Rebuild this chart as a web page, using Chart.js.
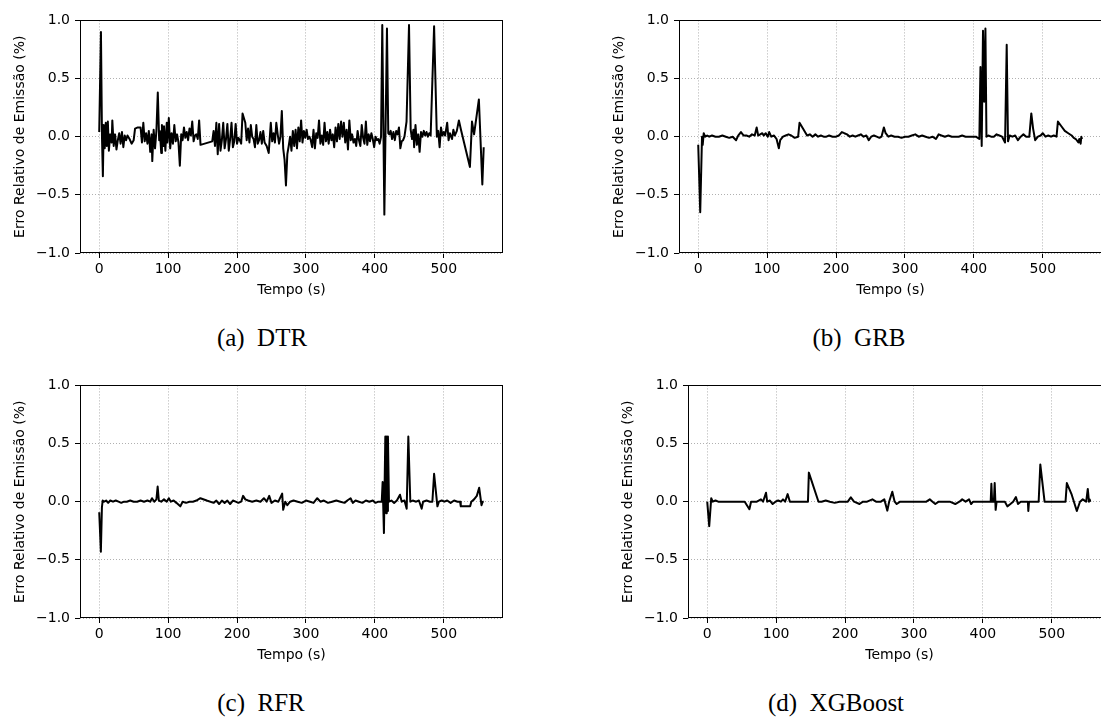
<!DOCTYPE html>
<html>
<head>
<meta charset="utf-8">
<script src="https://cdn.jsdelivr.net/npm/chart.js@4.4.1/dist/chart.umd.min.js"></script>
<style>
  body { margin: 0; width: 1101px; height: 717px; overflow: hidden; background: #fff; position: relative; }
  canvas { position: absolute; }
  .legenda { position: absolute; font-family: 'Liberation Serif', 'Times New Roman', serif; font-size: 25px; line-height: 1; color: #000; white-space: nowrap; transform: translateX(-50%); }
</style>
</head>
<body>
<canvas id="chartDTR"></canvas>
<canvas id="chartGRB"></canvas>
<canvas id="chartRFR"></canvas>
<canvas id="chartXGB"></canvas>
<div class="legenda" style="left:262px; top:325px">(a)&ensp;DTR</div>
<div class="legenda" style="left:859px; top:325px">(b)&ensp;GRB</div>
<div class="legenda" style="left:261px; top:690px">(c)&ensp;RFR</div>
<div class="legenda" style="left:836px; top:690px">(d)&ensp;XGBoost</div>
<script>
// eixos
const xTicks = [0, 100, 200, 300, 400, 500];
const yTicks = [-1, -0.5, 0, 0.5, 1];
const xMin = -27.9;
const xMax = 586;

// (a) DTR
const tempoDTR = [
  0, 2.5, 4, 5.3, 6.5, 8, 9.5, 11, 12.5, 14,
  16, 18, 19, 21, 23, 25, 27, 29, 31, 33,
  35, 37, 39, 41, 44, 47, 50, 52, 56, 60,
  62, 64, 66, 68, 70, 72, 74, 76, 77, 79,
  81, 83, 85, 87, 88, 90, 91, 93, 94, 96,
  98, 99, 101, 103, 105, 107, 109, 111, 113, 115,
  117, 119, 121, 123, 125, 127, 129, 131, 133, 135,
  137, 139, 141, 143, 145, 147, 164, 166, 168, 170,
  172, 174, 176, 178, 180, 182, 184, 186, 188, 190,
  192, 194, 196, 198, 200, 202, 204, 206, 208, 212,
  214, 216, 218, 220, 222, 224, 226, 228, 230, 232,
  234, 236, 238, 240, 243, 246, 249, 251, 253, 255,
  257, 259, 261, 263, 265, 267, 269, 271, 273, 275,
  277, 279, 281, 283, 285, 287, 289, 291, 293, 295,
  297, 299, 301, 303, 305, 307, 309, 311, 313, 315,
  317, 319, 321, 323, 325, 327, 329, 331, 333, 335,
  337, 339, 341, 343, 345, 347, 349, 351, 353, 355,
  357, 359, 361, 363, 365, 367, 369, 371, 373, 375,
  377, 379, 381, 383, 385, 387, 389, 391, 393, 395,
  397, 399, 401, 403, 405, 407, 409, 410.8, 413.8, 417.6,
  419.5, 421, 423, 425, 427, 429, 431, 433, 435, 437,
  439, 441, 443, 446, 449.6, 452, 454, 456, 457, 459,
  461, 463, 465, 467, 469, 471, 473, 475, 477, 479,
  481, 486, 490, 492, 494, 496, 498, 500, 502, 505,
  507, 509, 512, 514, 516, 519, 522, 525, 538, 541,
  544, 551, 556, 558
];
const erroDTR = [
  0.04, 0.90, 0.0, -0.34, 0.10, -0.10, 0.12, -0.08, 0.13, -0.12,
  0.02, -0.05, 0.14, -0.08, 0.02, -0.11, -0.03, 0.03, -0.06, 0.04,
  -0.09, 0.01, -0.03, 0.01, -0.02, -0.06, -0.03, 0.07, 0.08, 0.08,
  -0.05, 0.12, -0.04, 0.03, -0.06, 0.05, -0.13, 0.02, -0.21, 0.06,
  -0.10, 0.05, 0.38, -0.03, 0.05, -0.14, 0.10, -0.08, 0.09, -0.12,
  0.12, -0.05, 0.16, -0.10, 0.03, -0.06, 0.10, -0.04, 0.02, -0.05,
  -0.25, 0.02, -0.03, 0.08, -0.01, 0.04, -0.03, 0.07, 0.01, 0.13,
  -0.04, 0.01, 0.02, -0.02, 0.14, -0.07, -0.04, 0.05, -0.08, 0.12,
  -0.15, 0.11, -0.12, -0.03, 0.12, -0.10, -0.02, 0.11, -0.12, -0.02,
  0.12, -0.09, -0.04, 0.11, -0.06, -0.01, -0.03, -0.06, 0.20, 0.12,
  -0.03, 0.07, -0.05, 0.10, 0.0, -0.02, -0.09, 0.10, -0.06, -0.03,
  0.04, -0.06, 0.05, -0.05, -0.08, -0.14, 0.12, -0.04, 0.03, -0.05,
  0.12, 0.02, -0.06, 0.0, 0.22, -0.10, -0.20, -0.42, -0.15, -0.08,
  0.0, -0.12, 0.05, -0.08, 0.06, -0.10, 0.08, -0.04, 0.14, -0.05,
  0.05, -0.01, 0.06, -0.02, 0.0, -0.03, -0.09, 0.06, -0.10, 0.03,
  -0.01, 0.14, -0.06, 0.01, -0.07, 0.12, -0.04, 0.04, -0.06, 0.06,
  -0.03, 0.02, -0.09, 0.08, -0.04, 0.11, -0.02, 0.13, 0.0, 0.12,
  -0.05, 0.06, -0.11, 0.14, -0.03, 0.02, -0.05, -0.02, -0.08, 0.05,
  -0.03, -0.08, 0.10, -0.01, -0.06, 0.13, -0.07, 0.02, -0.04, 0.03,
  -0.02, -0.09, 0.0, -0.03, -0.02, -0.06, 0.0, 0.96, -0.67, 0.93,
  0.03, 0.02, 0.05, -0.02, 0.04, -0.03, 0.05, 0.02, 0.08, -0.10,
  -0.04, -0.03, 0.0, 0.13, 0.96, 0.06, -0.02, 0.06, -0.09, 0.10,
  -0.07, 0.02, -0.13, 0.04, 0.0, 0.05, 0.01, 0.04, 0.0, 0.03,
  0.01, 0.95, 0.0, 0.05, -0.09, 0.08, 0.01, 0.04, 0.01, 0.12,
  -0.03, 0.03, -0.02, 0.06, 0.01, 0.05, 0.14, 0.06, -0.26, 0.13,
  0.02, 0.32, -0.41, -0.09
];

// (b) GRB
const tempoGRB = [
  0, 2.9, 5.5, 6.5, 8, 10, 13, 16, 20, 25,
  30, 35, 40, 45, 50, 55, 58, 62, 66, 70,
  74, 78, 82, 84.8, 87, 90, 93, 95, 98, 101,
  103, 106, 110, 113.7, 117, 119, 123, 127, 131, 135,
  140, 145, 147, 152, 158, 162, 166, 170, 174, 178,
  182, 186, 190, 195, 200, 204, 208.4, 212, 216, 220,
  224, 228, 232, 236, 240, 244, 247.5, 251, 255, 259,
  263, 266, 269.4, 272, 276, 280, 285, 290, 295, 300,
  305, 310, 315, 320, 325, 330, 335, 340, 345, 349,
  353, 358, 363, 368, 373, 378, 383, 388, 393, 398,
  403, 408, 409.6, 411.4, 413.3, 415, 416.8, 418.3, 421, 425,
  429, 433, 437, 441, 445.3, 447.7, 449.6, 452, 456, 460,
  464, 468, 472, 476, 480.5, 483.4, 486, 489, 493, 497,
  500, 504, 508, 512, 516, 520, 522, 527, 532, 537,
  542, 545, 548, 551.7, 553, 555, 556, 557
];
const erroGRB = [
  -0.07, -0.65, 0.0, -0.07, 0.03, 0.0, 0.01, 0.0, 0.01, 0.0,
  0.0, 0.01, 0.0, -0.01, 0.0, -0.03, 0.01, 0.04, 0.01, 0.01,
  0.0, 0.02, 0.01, 0.08, 0.01, 0.02, 0.03, 0.01, 0.03, 0.0,
  0.04, 0.0, 0.01, -0.02, -0.10, -0.03, 0.0, 0.01, 0.02, 0.01,
  -0.01, 0.0, 0.12, 0.07, 0.01, 0.02, 0.0, 0.02, 0.0, 0.01,
  0.0, 0.0, 0.01, 0.0, 0.0, 0.01, 0.04, 0.03, 0.02, 0.0,
  0.01, 0.0, 0.01, 0.02, 0.0, 0.01, -0.03, 0.0, 0.01, 0.0,
  -0.01, 0.0, 0.08, 0.03, 0.0, 0.01, 0.0, 0.0, -0.01, 0.0,
  0.0, 0.01, 0.02, 0.0, 0.01, 0.0, -0.01, 0.0, -0.02, 0.02,
  0.01, 0.0, 0.01, 0.0, 0.0, 0.0, 0.01, 0.0, 0.0, 0.0,
  0.0, -0.02, 0.60, -0.08, 0.91, 0.30, 0.93, 0.0, 0.01, 0.0,
  0.0, 0.02, 0.01, 0.0, -0.05, 0.79, -0.04, 0.01, 0.0, 0.01,
  -0.03, 0.0, 0.02, 0.0, 0.0, 0.20, 0.07, -0.03, 0.0, 0.01,
  0.03, 0.0, 0.01, 0.0, 0.01, 0.0, 0.13, 0.09, 0.05, 0.03,
  0.01, -0.01, -0.02, -0.05, -0.02, -0.06, 0.0, -0.02
];

// (c) RFR
const tempoRFR = [
  0, 2.4, 3.9, 5, 7, 10, 13, 16, 20, 24,
  28, 32, 36, 40, 45, 50, 55, 60, 65, 70,
  74, 76.6, 80, 83, 84.8, 86.5, 90, 94, 98, 101,
  104, 108, 112, 117.7, 121, 126, 131, 136, 141, 146.8,
  156, 166, 170, 174, 178, 182, 186, 190, 194, 198,
  202, 206, 208.8, 212, 216, 222, 228, 234, 239, 243,
  246.7, 250, 255, 260, 265.5, 267, 270, 273, 277, 282,
  288, 294, 300, 306, 311, 316.4, 321, 326, 332, 338,
  344, 350, 356, 360, 364.8, 368, 372, 377, 382, 387,
  392, 397, 401, 405, 410, 411.3, 413.2, 415.2, 416.5, 417.3,
  418, 419, 420.5, 424, 428, 432, 436.5, 439, 443, 446.2,
  448.6, 451.5, 455, 460, 464, 468, 470, 475, 480, 483.5,
  486, 490.8, 493, 497, 501, 505, 510, 515, 520, 523.7,
  524.7, 538.3, 540, 544, 548, 551.4, 554.8, 556.5, 558
];
const erroRFR = [
  -0.09, -0.43, -0.05, 0.01, 0.0, 0.01, -0.01, 0.01, 0.0, 0.01,
  0.0, -0.01, 0.0, 0.0, 0.01, 0.0, 0.0, 0.01, 0.0, 0.01,
  0.0, 0.03, 0.0, 0.02, 0.13, 0.01, 0.0, 0.02, 0.0, 0.03,
  0.0, 0.01, -0.01, -0.04, 0.0, -0.01, 0.0, 0.0, 0.01, 0.03,
  0.01, -0.01, 0.01, -0.02, 0.01, -0.01, 0.01, -0.02, 0.01, 0.0,
  -0.01, 0.0, 0.05, 0.02, 0.01, 0.0, 0.01, 0.0, 0.03, 0.0,
  0.05, -0.01, 0.01, 0.0, 0.07, -0.07, 0.0, -0.03, 0.0, 0.01,
  0.0, -0.01, 0.01, 0.0, -0.01, 0.03, 0.0, 0.01, -0.01, 0.0,
  0.01, 0.0, -0.01, 0.01, 0.03, -0.01, 0.01, 0.0, -0.01, 0.01,
  0.0, 0.01, -0.01, 0.0, 0.0, 0.17, -0.27, 0.56, -0.10, 0.56,
  -0.08, 0.56, 0.0, 0.01, -0.01, 0.01, 0.06, 0.0, 0.01, -0.06,
  0.56, 0.0, 0.01, 0.0, 0.01, -0.06, 0.0, 0.01, 0.0, 0.0,
  0.24, -0.04, 0.0, 0.01, 0.0, 0.01, -0.01, 0.01, 0.0, 0.0,
  -0.04, -0.04, 0.0, 0.02, 0.05, 0.12, -0.03, 0.0, 0.0
];

// (d) XGBoost
const tempoXGB = [
  0, 2.9, 5.8, 8, 12, 16, 20, 25, 30, 35,
  40, 45, 50, 54.4, 61.2, 63.6, 68, 72, 78, 81,
  85.3, 87, 91, 95, 99, 103, 107, 110, 113, 116.7,
  120, 126, 135, 146.2, 147.5, 161.5, 166, 172, 178, 185,
  192, 200, 204, 208.4, 213, 221, 226, 232, 239.7, 245,
  252, 257, 261.4, 264, 268.6, 272, 275, 280, 288, 296,
  304, 312, 318, 323, 327, 331, 336, 344, 352, 360,
  366, 370, 375, 380, 383, 386, 392, 400, 406, 411.4,
  412.4, 413.5, 416, 417.2, 418.6, 420, 426, 432, 435.6, 440,
  444, 448, 451, 455, 460, 465.4, 466, 467, 472, 478,
  481, 483.4, 489.6, 495, 502, 510, 516, 520, 521.9, 529,
  536.4, 541, 545, 550, 552.3, 554, 555, 556
];
const erroXGB = [
  0.0, -0.21, 0.03, 0.0, 0.01, 0.0, 0.0, 0.0, 0.0, 0.0,
  0.0, 0.0, 0.0, 0.0, -0.065, 0.0, 0.0, 0.0, 0.02, 0.0,
  0.077, 0.0, 0.01, -0.02, 0.0, 0.01, 0.0, 0.02, 0.0, 0.065,
  0.0, 0.0, 0.0, 0.0, 0.25, 0.0, 0.0, 0.01, 0.0, -0.01,
  0.0, 0.0, 0.0, 0.037, 0.0, -0.02, 0.0, 0.0, 0.02, 0.0,
  0.0, 0.02, -0.077, 0.0, 0.085, 0.0, -0.02, 0.0, 0.0, 0.0,
  0.0, 0.0, 0.0, 0.02, 0.0, -0.02, 0.0, 0.0, 0.0, -0.02,
  0.0, 0.02, 0.0, 0.02, -0.02, 0.0, 0.0, 0.0, 0.0, 0.0,
  0.155, 0.0, 0.0, 0.16, -0.07, 0.0, 0.0, 0.0, -0.04, -0.02,
  0.0, 0.04, -0.02, 0.0, 0.0, 0.0, -0.08, 0.0, 0.0, 0.0,
  0.0, 0.32, 0.0, 0.0, 0.0, 0.0, 0.0, 0.0, 0.16, 0.06,
  -0.08, 0.0, 0.02, 0.0, 0.11, 0.0, 0.02, 0.0
];

const plotWidth = 423;
const plotHeight = 234;
const yAxisWidth = 80;
const xAxisHeight = 50;
const padTop = 12;
const padRight = 12;

Chart.defaults.font.family = "'DejaVu Sans', sans-serif";
Chart.defaults.font.size = 14;
Chart.defaults.color = '#000';

// moldura (spines) em volta da area do grafico
const moldura = {
  id: 'moldura',
  afterDatasetsDraw(chart) {
    const a = chart.chartArea;
    const ctx = chart.ctx;
    ctx.save();
    ctx.strokeStyle = '#000';
    ctx.lineWidth = 1;
    ctx.strokeRect(Math.round(a.left) + 0.5, Math.round(a.top) + 0.5,
      Math.round(a.right - a.left) - 1, Math.round(a.bottom - a.top) - 1);
    ctx.restore();
  }
};

function fmtY(v) {
  const s = Math.abs(v).toFixed(1);
  return v < 0 ? '\u2212' + s : s;
}

function initChart(id, tempo, erro, left, top) {
  const canvas = document.getElementById(id);
  canvas.width = yAxisWidth + plotWidth + padRight;
  canvas.height = padTop + plotHeight + xAxisHeight;
  canvas.style.left = (left - yAxisWidth) + 'px';
  canvas.style.top = (top - padTop) + 'px';

  const points = tempo.map((t, i) => ({ x: t, y: erro[i] }));

  const grid = {
    color: '#b0b0b0',
    lineWidth: 1,
    tickLength: 5,
    tickColor: '#000',
    tickWidth: 1,
    tickBorderDash: []
  };

  return new Chart(canvas, {
    type: 'line',
    data: {
      datasets: [{
        data: points,
        borderColor: '#000',
        borderWidth: 2,
        borderJoinStyle: 'round',
        pointRadius: 0,
        tension: 0,
        fill: false
      }]
    },
    options: {
      responsive: false,
      animation: false,
      events: [],
      layout: { padding: { top: padTop, right: padRight, left: 0, bottom: 0 } },
      plugins: { legend: { display: false }, tooltip: { enabled: false } },
      scales: {
        x: {
          type: 'linear',
          min: xMin,
          max: xMax,
          afterBuildTicks: (s) => { s.ticks = xTicks.map(v => ({ value: v })); },
          afterFit: (s) => { s.height = xAxisHeight; },
          grid: grid,
          border: { display: false, dash: [1, 2] },
          ticks: { padding: 3, maxRotation: 0, callback: v => String(v) },
          title: { display: true, text: 'Tempo (s)', padding: { top: 0, bottom: 4.6 } }
        },
        y: {
          min: -1,
          max: 1,
          afterBuildTicks: (s) => { s.ticks = yTicks.map(v => ({ value: v })); },
          afterFit: (s) => { s.width = yAxisWidth; },
          grid: grid,
          border: { display: false, dash: [1, 2] },
          ticks: { padding: 5, callback: v => fmtY(v) },
          title: { display: true, text: 'Erro Relativo de Emissão (%)', padding: { top: 11.6, bottom: 0 } }
        }
      }
    },
    plugins: [moldura]
  });
}

initChart('chartDTR', tempoDTR, erroDTR, 80, 19);
initChart('chartGRB', tempoGRB, erroGRB, 679, 19);
initChart('chartRFR', tempoRFR, erroRFR, 80, 384);
initChart('chartXGB', tempoXGB, erroXGB, 688, 384);
</script>
</body>
</html>
